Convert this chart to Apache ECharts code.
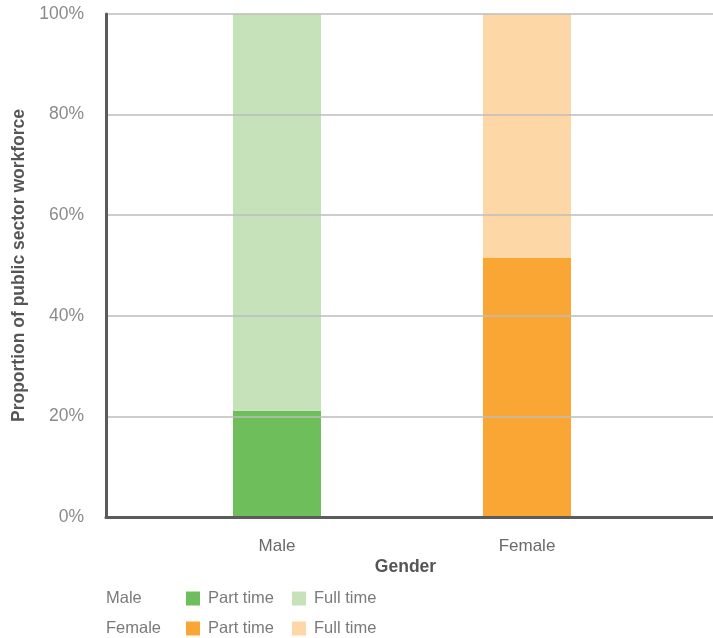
<!DOCTYPE html>
<html>
<head>
<meta charset="utf-8">
<title>Public sector workforce by gender</title>
<script src="https://cdn.jsdelivr.net/npm/echarts@6/dist/echarts.min.js"></script>
<style>
  html, body { margin: 0; padding: 0; background: #fff; }
  #chart { width: 713px; height: 638px; }
</style>
</head>
<body>
<div id="chart"></div>
<script>
// Categories and values (% of public sector workforce)
const genders = ['Male', 'Female'];
const partTime = [21.1, 51.6];
const fullTime = [78.9, 48.4];
const yTicks = [0, 20, 40, 60, 80, 100];

const FONT = '"Liberation Sans", Arial, Helvetica, sans-serif';
const colors = {
  Male: { part: '#6ebf5c', full: '#c5e2bb' },
  Female: { part: '#f9a634', full: '#fed7a6' }
};

// One pair of stacked series per gender, so each bar gets its own palette
const series = [];
genders.forEach((g, i) => {
  const only = (arr) => genders.map((_, j) => (j === i ? arr[i] : '-'));
  series.push({
    name: g + ' Part time', type: 'bar', stack: 'total',
    xAxisIndex: 1, yAxisIndex: 1, barWidth: 88,
    itemStyle: { color: colors[g].part },
    data: only(partTime)
  });
  series.push({
    name: g + ' Full time', type: 'bar', stack: 'total',
    xAxisIndex: 1, yAxisIndex: 1, barWidth: 88,
    itemStyle: { color: colors[g].full },
    data: only(fullTime)
  });
});

const legendCommon = {
  left: 186, padding: 0, itemWidth: 14, itemHeight: 14, itemGap: 18, icon: 'rect',
  selectedMode: false,
  textStyle: { fontFamily: FONT, fontSize: 16.5, color: '#7a7a7a', padding: [0, 0, 0, 3] },
  formatter: (name) => name.replace(/^(Male|Female) /, '')
};

const chart = echarts.init(document.getElementById('chart'));
chart.setOption({
  animation: false,
  backgroundColor: '#ffffff',
  grid: [
    { left: 106, right: 0, top: 14, bottom: 121, containLabel: false, outerBoundsMode: 'none' },
    { left: 152, width: 500, top: 14, bottom: 121, containLabel: false, outerBoundsMode: 'none' }
  ],
  xAxis: [
    {
      gridIndex: 0, type: 'value', min: 0, max: 1, z: 5,
      axisLine: { show: true, lineStyle: { color: '#5b5b5b', width: 3 } },
      axisTick: { show: false }, axisLabel: { show: false }, splitLine: { show: false },
      name: 'Gender', nameLocation: 'middle', nameGap: 41,
      nameTextStyle: { fontFamily: FONT, fontSize: 17.5, fontWeight: 'bold', color: '#555', padding: [0, 8, 0, 0] }
    },
    {
      gridIndex: 1, type: 'category', data: genders,
      axisLine: { show: false }, axisTick: { show: false },
      axisLabel: { fontFamily: FONT, fontSize: 17, color: '#6a6a6a', margin: 21 }
    }
  ],
  yAxis: [
    {
      gridIndex: 0, type: 'value', min: yTicks[0], max: yTicks[yTicks.length - 1],
      interval: yTicks[1] - yTicks[0], z: 5,
      axisLine: { show: true, lineStyle: { color: '#5b5b5b', width: 3 } },
      axisTick: { show: false },
      splitLine: { show: true, lineStyle: { color: '#bdbdbd', width: 1.5 } },
      axisLabel: {
        formatter: '{value}%', fontFamily: FONT, fontSize: 17.5, color: '#8a8a8a', margin: 22,
        padding: [5, 0, 0, 0]
      },
      name: 'Proportion of public sector workforce', nameLocation: 'middle', nameGap: 78,
      nameTextStyle: { fontFamily: FONT, fontSize: 17.5, fontWeight: 'bold', color: '#555' }
    },
    { gridIndex: 1, type: 'value', min: 0, max: 100, show: false }
  ],
  legend: [
    Object.assign({ top: 590, data: ['Male Part time', 'Male Full time'] }, legendCommon),
    Object.assign({ top: 620, data: ['Female Part time', 'Female Full time'] }, legendCommon)
  ],
  graphic: [
    { type: 'text', left: 106, top: 590, style: { text: 'Male', font: '16.5px ' + FONT, fill: '#7a7a7a' } },
    { type: 'text', left: 106, top: 620, style: { text: 'Female', font: '16.5px ' + FONT, fill: '#7a7a7a' } }
  ],
  series: series
});
</script>
</body>
</html>
